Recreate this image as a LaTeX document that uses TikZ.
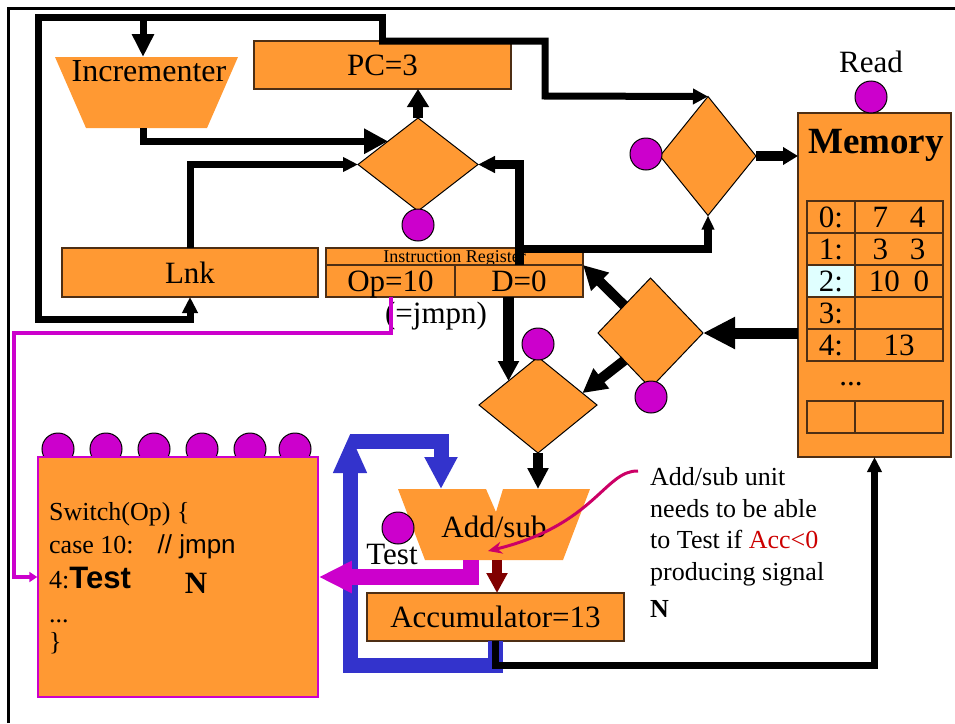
\documentclass[tikz,border=0pt]{standalone}
\usepackage{fontspec}
\setmainfont{Liberation Serif}
\newfontfamily\arialfont{Liberation Sans}
\usetikzlibrary{arrows.meta,shapes.geometric}

\definecolor{boxorange}{HTML}{FF9933}
\definecolor{selmag}{HTML}{CC00CC}
\definecolor{loopblue}{HTML}{3333CC}
\definecolor{accred}{HTML}{800000}
\definecolor{noteline}{HTML}{CC0066}
\definecolor{notered}{HTML}{CC0000}
\definecolor{boxedge}{HTML}{4D2E14}
\definecolor{hilite}{HTML}{E0FFFF}

\tikzset{
  reg/.style={draw=boxedge, line width=1.5pt, fill=boxorange, inner sep=0pt, outer sep=0pt},
  mux/.style={diamond, draw=black, line width=1pt, fill=boxorange, inner sep=0pt, outer sep=0pt},
  seldot/.style={circle, draw=black, line width=1pt, fill=selmag, minimum size=32pt, inner sep=0pt},
  cell/.style={draw=boxedge, line width=1.5pt, minimum height=32pt, inner sep=0pt,
    text height=21pt, text depth=0pt, font=\fontsize{31}{36}\selectfont},
  txt/.style={inner sep=0pt},
  big/.style={font=\fontsize{31}{36}\selectfont},
  mid/.style={font=\fontsize{26}{30}\selectfont},
  bus/.style={line width=7pt},
  fatbus/.style={line width=10pt},
}

\begin{document}
\begin{tikzpicture}[x=1pt,y=-1pt]
  \useasboundingbox (0,0) rectangle (955,723);
  \draw[line width=3pt] (8,723) -- (8,8) -- (955,8);

  \fill[boxorange] (55,57) -- (238,57) -- (207,128) -- (86,128) -- cycle;
  \node[txt, anchor=base, font=\fontsize{32}{36}\selectfont] (incr) at (149,81) {Incrementer};
  \coordinate (incrtop) at (143,57);
  \coordinate (incrbot) at (143,128);

  \node[reg, big, minimum width=257pt, minimum height=48pt] (pc) at (382.5,65) {PC=3};
  \node[reg, big, minimum width=256pt, minimum height=49pt] (lnk) at (190,272.5) {Lnk};

  \node[reg, minimum width=257pt, minimum height=17pt, text height=12pt, text depth=0pt,
    font=\fontsize{18}{18}\selectfont] (irtitle) at (454.5,256.5) {Instruction Register};
  \node[reg, big, minimum width=129pt, minimum height=32pt, text height=21pt, text depth=0pt] (irop) at (390.5,281) {Op=10};
  \node[reg, big, minimum width=128pt, minimum height=32pt, text height=21pt, text depth=0pt] (ird) at (519,281) {D=0};
  \node[txt, big, anchor=base] (jmpn) at (436,323) {(=jmpn)};

  \node[mux, minimum width=120pt, minimum height=93pt] (muxpc) at (418,164.5) {};
  \node[mux, minimum width=96pt, minimum height=119pt] (muxaddr) at (708,156) {};
  \node[mux, minimum width=105pt, minimum height=110pt] (muxdata) at (650.5,333) {};
  \node[mux, minimum width=118pt, minimum height=96pt] (muxalu) at (538,405) {};
  \node[seldot] (selpc) at (418,225) {};
  \node[seldot] (seladdr) at (646,154) {};
  \node[seldot] (seldata) at (651,397) {};
  \node[seldot] (selalu) at (538,344) {};

  \node[reg, minimum width=153pt, minimum height=344pt] (mem) at (874.5,285) {};
  \node[txt, anchor=base, font=\fontsize{37}{40}\selectfont\bfseries] (memtitle) at (876,153) {Memory};
  \node[seldot] (readdot) at (871,97) {};
  \node[txt, big, anchor=base] (readlbl) at (871,72) {Read};
  \foreach \r/\lab/\val/\bg in {0/0:/{7\hspace{22pt}4}/boxorange,1/1:/{3\hspace{22pt}3}/boxorange,
      2/2:/{10\hspace{14pt}0}/hilite,3/3:/{}/boxorange,4/4:/{13}/boxorange} {
    \node[cell, fill=\bg, minimum width=48pt] (addr\r) at (831,217+32*\r) {\lab};
    \node[cell, fill=boxorange, minimum width=88pt] (word\r) at (899,217+32*\r) {\val};
  }
  \node[txt, big, anchor=base] (memdots) at (851,385) {...};
  \node[cell, fill=boxorange, minimum width=48pt] (addrlast) at (831,417) {};
  \node[cell, fill=boxorange, minimum width=88pt] (wordlast) at (899,417) {};

  \fill[boxorange] (398,489) -- (486,489) -- (496,512) -- (503,489) -- (590,489)
    -- (563,560) -- (425,560) -- cycle;
  \node[txt, big, anchor=base] (alu) at (494,537) {Add/sub};
  \coordinate (alutopblue) at (441,489);
  \coordinate (alutopblk) at (538,489);
  \coordinate (alumag) at (471,560);
  \coordinate (aludr) at (497,560);
  \node[seldot] (testdot) at (398,528) {};
  \node[txt, big, anchor=base] (testlbl) at (392,564) {Test};

  \node[reg, big, minimum width=257pt, minimum height=48pt] (acc) at (495.5,617) {Accumulator=13};

  \foreach \i/\x in {1/58,2/106,3/154,4/202,5/250,6/295}
    \node[seldot] (ctrldot\i) at (\x,449) {};
  \node[draw=selmag, line width=1.5pt, fill=boxorange, minimum width=280pt, minimum height=240pt,
    inner sep=0pt] (ctrl) at (178,577) {};
  \node[txt, mid, anchor=base west] (sw1) at (49,520) {Switch(Op) \{};
  \node[txt, mid, anchor=base west] (sw2) at (49,553) {case 10:\hspace{24pt}{\arialfont // jmpn}};
  \node[txt, mid, anchor=base west] (sw3) at (49,588) {4:{\arialfont\bfseries\fontsize{31}{36}\selectfont Test}};
  \node[txt, big, anchor=base] (swn) at (196,593) {\textbf{N}};
  \node[txt, mid, anchor=base west] (sw4) at (49,622) {...};
  \node[txt, mid, anchor=base west] (sw5) at (49,650) {\}};

  \node[txt, mid, anchor=base west] (note1) at (650,485) {Add/sub unit};
  \node[txt, mid, anchor=base west] (note2) at (650,517) {needs to be able};
  \node[txt, mid, anchor=base west] (note3) at (650,548) {to Test if \textcolor{notered}{Acc<0}};
  \node[txt, mid, anchor=base west] (note4) at (650,580) {producing signal};
  \node[txt, mid, anchor=base west] (note5) at (650,617) {\textbf{N}};
  \coordinate (notetail) at (638,471);
  \coordinate (notetip) at (488,551);

  \coordinate (loopnw) at (38,17);
  \coordinate (loopsw) at (38,319);
  \coordinate (addrbend) at (545,96);
  \draw[bus, -{Triangle[length=16pt,width=15pt]}] (pc.north) |- (loopnw) -- (loopsw) -| (lnk.south);
  \draw[bus, -{Triangle[length=23pt,width=21pt]}] (incrtop |- loopnw) -- (incrtop);
  \draw[bus, -{Triangle[length=15pt,width=15pt]}] ([xshift=-3.5pt]pc.north) -| (addrbend) -- (muxaddr.north);
  \draw[bus, -{Triangle[length=24pt,width=24pt]}] (incrbot) |- (muxpc.north west);
  \draw[bus, -{Triangle[length=15pt,width=14pt]}] (lnk.north) |- (muxpc.west);
  \draw[fatbus, -{Triangle[length=18pt,width=21pt]}] (muxpc.north) -- (muxpc.north |- pc.south);
  \draw[line width=9pt, -{Triangle[length=17pt,width=16pt]}] (ird.north) |- (muxpc.east);
  \draw[line width=8pt, -{Triangle[length=14pt,width=12pt]}] (ird.north) ++(0,-16) -| (muxaddr.south);
  \draw[fatbus, -{Triangle[length=15pt,width=17pt]}] (muxaddr.east) -- (muxaddr.east -| mem.west);
  \draw[line width=11pt, -{Triangle[length=32pt,width=30pt]}] (muxdata.east -| mem.west) -- (muxdata.east);
  \draw[fatbus, -{Triangle[length=24pt,width=24pt]}] (muxdata.north west) -- (ird.north east);
  \draw[fatbus, -{Triangle[length=24pt,width=24pt]}] (muxdata.south west) -- (muxalu.15);
  \draw[line width=11pt, -{Triangle[length=20pt,width=20pt]}] (ird.south -| muxalu.north west) -- (muxalu.north west);
  \draw[fatbus, -{Triangle[length=21pt,width=20pt]}] (muxalu.south) -- (alutopblk);
  \draw[accred, line width=10pt, -{Triangle[length=20pt,width=20pt]}] (aludr) -- (aludr |- acc.north);

  \coordinate (bluesw) at (350,665);
  \coordinate (bluenw) at (350,441);
  \coordinate (bluetip) at (350,433);
  \draw[loopblue, line width=15pt, -{Triangle[length=40pt,width=31pt]}] (acc.south) |- (bluesw) -- (bluetip);
  \draw[loopblue, line width=15pt, -{Triangle[length=32pt,width=31pt]}] (bluenw) -| (alutopblue);
  \draw[bus, -{Triangle[length=15pt,width=14pt]}] (acc.south) -- ++(0,24) -| (mem.south);

  \draw[selmag, line width=16pt, -{Triangle[length=33pt,width=30pt]}] (alumag) |- (ctrl.east);
  \coordinate (magbend) at (14,333);
  \draw[selmag, line width=4pt, -{Triangle[length=8pt,width=10pt]}] (irop.south) |- (magbend) |- (ctrl.west);

  \draw[noteline, line width=3pt, -{Stealth[length=14pt,width=12pt]}] (notetail)
    .. controls (605,470) and (595,525) .. (notetip);
\end{tikzpicture}
\end{document}
